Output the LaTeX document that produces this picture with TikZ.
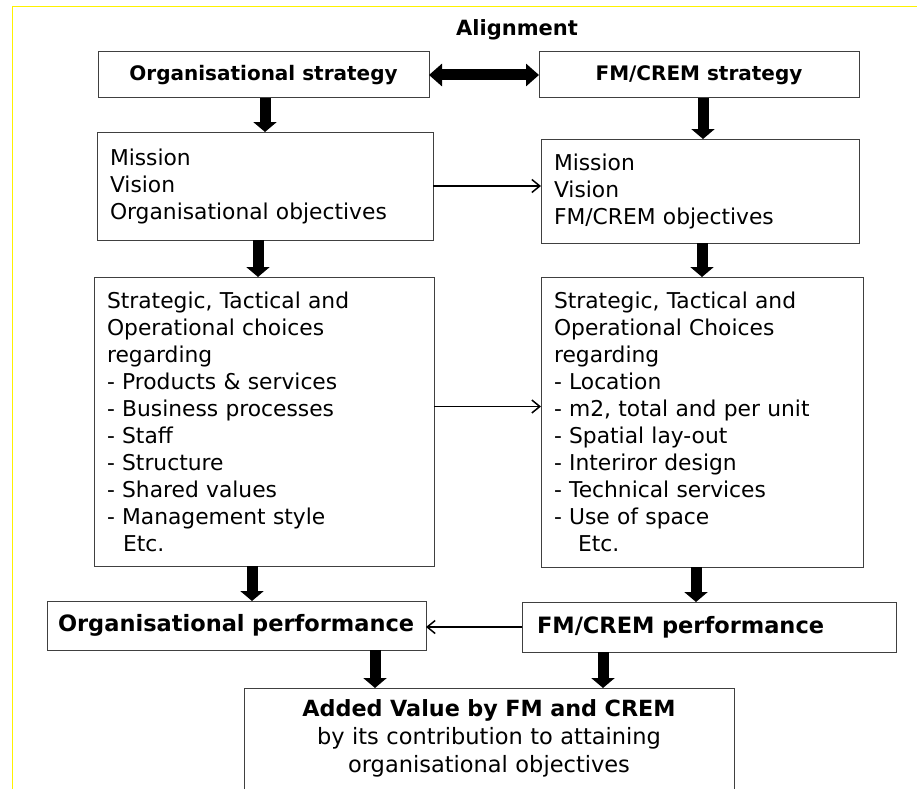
\documentclass[tikz,border=0pt]{standalone}
\usepackage{fontspec}
\setmainfont{DejaVu Sans}
\usetikzlibrary{arrows.meta}

\begin{document}
\begin{tikzpicture}
[x=1pt,y=-1pt]
\tikzset{box/.style={draw=black!75,line width=1pt,inner sep=0pt,outer sep=0pt}}
\tikzset{headbox/.style={box,align=center,font=\bfseries\fontsize{20}{24}\selectfont}}
\tikzset{txtbox/.style={box,inner xsep=13pt,align=left,font=\fontsize{21.8}{27}\selectfont}}
\tikzset{perfbox/.style={box,align=left,font=\bfseries\fontsize{22.5}{27}\selectfont}}
\tikzset{blockarrow/.style={line width=11pt,-{Triangle[width=23pt,length=10pt]}}}
\tikzset{thinarrow/.style={line width=1.5pt,-{Straight Barb[length=8pt,width=13pt]}}}
\useasboundingbox (0,0) rectangle (917,789);
\draw [yellow,line width=1pt] (917,7) -- (12,7) -- (12,789);

\node [font=\bfseries\fontsize{21}{24}\selectfont] (align) at (517,30) {Alignment};
\node [headbox,minimum width=331pt,minimum height=46pt] (b1) at (263.5,75) {Organisational strategy};
\node [headbox,minimum width=320pt,minimum height=46pt] (b2) at (699,75) {FM/CREM strategy};
\node [txtbox,text width=310pt,minimum height=108pt] (b3) at (265,186) {Mission\\Vision\\Organisational objectives};
\node [txtbox,text width=292pt,minimum height=104pt] (b4) at (700,191) {Mission\\Vision\\FM/CREM objectives};
\node [txtbox,text width=314pt,minimum height=289pt] (b5) at (264,421.5) {Strategic, Tactical and\\Operational choices\\regarding\\- Products \& services\\- Business processes\\- Staff\\- Structure\\- Shared values\\- Management style\\\hspace*{16pt}Etc.};
\node [txtbox,text width=296pt,minimum height=290pt] (b6) at (702,422) {Strategic, Tactical and\\Operational Choices\\regarding\\- Location\\- m2, total and per unit\\- Spatial lay-out\\- Interiror design\\- Technical services\\- Use of space\\\hspace*{24pt}Etc.};
\node [perfbox,inner xsep=11pt,text width=357pt,minimum height=49pt] (b7) at (236.5,625.5) {Organisational performance};
\node [perfbox,inner xsep=15pt,text width=344pt,minimum height=50pt] (b8) at (709,627) {FM/CREM performance};
\node [box,draw=none,align=center,text width=490pt,minimum height=101pt,font=\fontsize{22.5}{28}\selectfont] (b9) at (489,738.5) {{\bfseries\fontsize{22.3}{28}\selectfont Added Value by FM and CREM}\\by its contribution to attaining\\organisational objectives};
\draw [box] (b9.south west) |- (b9.north east) -- (b9.south east);

\foreach \from/\to/\x in {b1/b3/265,b2/b4/703,b3/b5/258,b4/b6/702,b5/b7/252,b6/b8/696,b7/b9/375,b8/b9/603}
	\draw [blockarrow] (\from.south -| \x,0) -- (\to.north -| \x,0);

\draw [blockarrow,{Triangle[width=22pt,length=13pt]}-{Triangle[width=22pt,length=13pt]}] (b1) -- (b2);
\draw [thinarrow] (b3.east) -- (b3.east -| b4.west);
\draw [thinarrow] ([yshift=15pt]b5.east) -- ([yshift=15pt]b5.east -| b6.west);
\draw [thinarrow] (b8.west) -- (b8.west -| b7.east);

\end{tikzpicture}
\end{document}
